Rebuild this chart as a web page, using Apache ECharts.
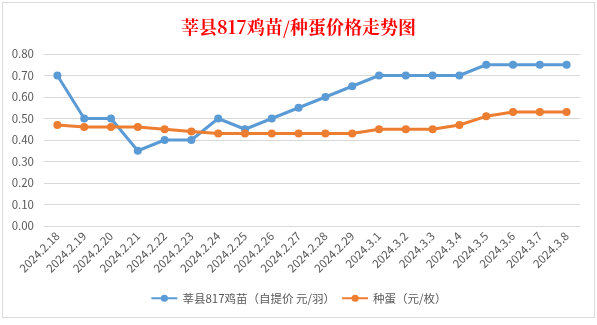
<!DOCTYPE html>
<html><head><meta charset="utf-8">
<script src="https://cdn.jsdelivr.net/npm/echarts@6/dist/echarts.min.js"></script>
<style>html,body{margin:0;padding:0;background:#fff;}#c{position:absolute;left:2px;top:2px;width:591px;height:314px;border:1px solid #d9d9d9;}</style>
</head><body><div id="c"></div>
<script>
const categories = ['2024.2.18','2024.2.19','2024.2.20','2024.2.21','2024.2.22','2024.2.23','2024.2.24','2024.2.25','2024.2.26','2024.2.27','2024.2.28','2024.2.29','2024.3.1','2024.3.2','2024.3.3','2024.3.4','2024.3.5','2024.3.6','2024.3.7','2024.3.8'];
const chickPrice = [0.70,0.50,0.50,0.35,0.40,0.40,0.50,0.45,0.50,0.55,0.60,0.65,0.70,0.70,0.70,0.70,0.75,0.75,0.75,0.75];
const eggPrice = [0.47,0.46,0.46,0.46,0.45,0.44,0.43,0.43,0.43,0.43,0.43,0.43,0.45,0.45,0.45,0.47,0.51,0.53,0.53,0.53];
const seriesNames = ['莘县817鸡苗（自提价 元/羽）','种蛋（元/枚）'];
const chart = echarts.init(document.getElementById('c'));
const font = '"Noto Sans CJK SC", "Liberation Sans", sans-serif';
chart.setOption({
  animation:false,
  title:{text:'莘县817鸡苗/种蛋价格走势图',left:'center',top:10,textStyle:{color:'#ff0000',fontSize:18,fontWeight:'bold',fontFamily:'"Noto Serif CJK SC","Noto Sans CJK SC",serif'}},
  grid:{left:41,right:14,top:51,bottom:91},
  legend:{bottom:8,left:'center',itemWidth:26,itemHeight:9,itemGap:6,textStyle:{color:'#595959',fontSize:11.5,fontFamily:font},data:seriesNames},
  xAxis:{type:'category',data:categories,boundaryGap:true,axisLine:{lineStyle:{color:'#d9d9d9'}},axisTick:{show:false},
    axisLabel:{rotate:45,interval:0,color:'#595959',fontSize:11.5,fontFamily:font,margin:8}},
  yAxis:{type:'value',min:0,max:0.8,interval:0.1,axisLine:{show:false},axisTick:{show:false},
    axisLabel:{formatter:v=>v.toFixed(2),color:'#595959',fontSize:11.5,fontFamily:font,margin:10},
    splitLine:{lineStyle:{color:'#d9d9d9'}}},
  series:[
    {name:seriesNames[0],type:'line',data:chickPrice,symbol:'circle',symbolSize:8,lineStyle:{width:3,color:'#5b9bd5'},itemStyle:{color:'#5b9bd5'}},
    {name:seriesNames[1],type:'line',data:eggPrice,symbol:'circle',symbolSize:8,lineStyle:{width:3,color:'#ed7d31'},itemStyle:{color:'#ed7d31'}}
  ]
});
</script></body></html>
